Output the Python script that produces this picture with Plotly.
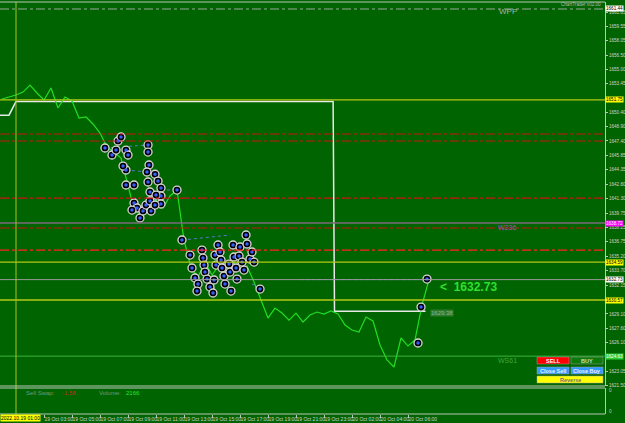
import plotly.graph_objects as go

# ---------------- data ----------------
# x = M30 bar index (0 = 19 Oct 00:00; 20 Oct 00:00-01:00 gap removed)
close_idx = list(range(62))
close_px = [1651.84, 1652.05, 1652.27, 1652.58, 1653.32, 1652.48, 1651.74, 1653.01, 1650.89, 1652.05,
            1651.63, 1649.83, 1649.94, 1649.20, 1648.24, 1646.76, 1646.23, 1645.60, 1642.74, 1639.78,
            1640.62, 1640.09, 1641.15, 1640.31, 1641.58, 1642.21, 1636.92, 1633.96, 1633.00, 1634.59,
            1633.22, 1634.27, 1633.53, 1634.59, 1633.74, 1634.17, 1632.47, 1630.57, 1628.66, 1629.72,
            1629.19, 1628.45, 1629.19, 1628.24, 1628.98, 1629.30, 1629.09, 1629.41, 1629.09, 1627.92,
            1627.39, 1627.18, 1628.77, 1628.35, 1625.81, 1624.22, 1623.48, 1626.55, 1625.70, 1626.34,
            1630.04, 1632.73]

stop_idx = [-0.3, 1, 2, 47.3, 47.5, 60.5]
stop_px = [1650.13, 1650.13, 1651.57, 1651.57, 1629.38, 1629.38]

trade_idx = [14.71, 15.71, 16.29, 16.57, 17.0, 17.71, 18.0, 17.71, 17.71, 18.86, 18.86, 19.29, 19.71,
             20.14, 20.57, 20.86, 20.86, 21.0, 20.71, 20.86, 21.14, 21.14, 21.29, 21.86, 22.29, 22.71,
             22.71, 22.71, 22.0, 21.86, 25.0, 18.57, 17.29,
             25.71, 26.86, 27.14, 27.57, 28.0, 27.86, 28.57, 28.71, 28.86, 29.0, 29.29, 29.71, 30.14,
             30.57, 30.43, 30.86, 31.14, 31.29, 31.43, 31.71, 31.86, 32.43, 32.57, 32.71, 33.0, 33.14,
             33.43, 33.86, 34.0, 34.29, 34.57, 34.86, 35.0, 35.43, 35.71, 36.0, 36.86, 33.57, 30.29,
             60.71, 59.86, 59.43]
trade_px = [1646.66, 1645.92, 1646.44, 1647.40, 1647.82, 1646.44, 1645.92, 1644.33, 1642.74, 1642.74,
            1640.84, 1640.31, 1639.25, 1639.99, 1640.62, 1646.98, 1646.23, 1644.86, 1644.12, 1643.06,
            1642.00, 1641.05, 1639.99, 1643.88, 1643.16, 1642.42, 1641.58, 1640.73, 1641.68, 1640.62,
            1642.21, 1640.09, 1644.75,
            1636.92, 1635.33, 1633.96, 1632.90, 1632.26, 1631.52, 1635.86, 1635.01, 1634.27, 1633.53,
            1632.79, 1631.94, 1631.31, 1634.27, 1635.33, 1636.39, 1635.65, 1634.80, 1633.96, 1633.11,
            1632.26, 1634.37, 1633.53, 1631.52, 1636.39, 1635.12, 1633.96, 1635.22, 1636.18, 1634.59,
            1633.74, 1637.45, 1636.50, 1634.91, 1635.65, 1634.59, 1631.73, 1632.79, 1632.69,
            1632.79, 1629.82, 1626.02]

# dotted trade links: (idx0, idx1), (price0, price1)
link_idx = [(14.71, 20.86), (17.71, 20.71), (23.57, 25.0), (25.71, 32.57), (35.71, 36.86), (42.6, 60.7)]
link_px = [(1646.66, 1646.98), (1644.33, 1644.12), (1642.21, 1642.21), (1636.92, 1637.45),
           (1632.26, 1631.94), (1632.73, 1632.73)]

yellow_levels = [1651.75, 1634.59, 1630.57]
red_levels = [1648.14, 1647.40, 1641.36, 1638.19, 1635.86]
wpp_level = 1661.37
w236_level = 1638.72
ws61_level = 1624.63
bid_level = 1632.73
cursor_idx = 2

price_ticks = [1661.05, 1659.55, 1658.05, 1656.50, 1655.00, 1653.45, 1651.95, 1650.40, 1648.90,
               1647.40, 1645.85, 1644.35, 1642.80, 1641.30, 1639.75, 1638.25, 1636.75, 1635.20,
               1633.70, 1632.15, 1630.65, 1629.10, 1627.60, 1626.10, 1624.55, 1623.05, 1621.50]

time_ticks = [6, 10, 14, 18, 22, 26, 30, 34, 38, 42, 46, 50, 54, 58]
time_labels = ["19 Oct 03:00", "19 Oct 05:00", "19 Oct 07:00", "19 Oct 09:00", "19 Oct 11:00",
               "19 Oct 13:00", "19 Oct 15:00", "19 Oct 17:00", "19 Oct 19:00", "19 Oct 21:00",
               "19 Oct 23:00", "20 Oct 02:00", "20 Oct 04:00", "20 Oct 06:00"]

axis_boxes = [("1661.44", 1661.37, "#FFFFFF", "#000000"),
              ("1651.75", 1651.75, "#FFFF00", "#000000"),
              ("1638.72", 1638.72, "#FF00FF", "#FFFFFF"),
              ("1634.59", 1634.59, "#FFFF00", "#000000"),
              ("1632.73", 1632.73, "#FFFFFF", "#000000"),
              ("1630.57", 1630.57, "#FFFF00", "#000000"),
              ("1624.63", 1624.63, "#32CD32", "#FFFFFF")]

# ---------------- layout helpers (pixel -> paper) ----------------
W_PLOT, TOP, BOT = 605.0, 2.0, 414.0
def px(x):
    return x / W_PLOT
def py(y):
    return (BOT - y) / (BOT - TOP)

BG = "#006400"
GRID_COL = "#B8C8B8"
FONT = "Liberation Sans, Arial, sans-serif"
AX_FONT = 4.6

# tick labels hidden behind the highlighted price boxes (as on the terminal)
box_levels = [b[1] for b in axis_boxes]
tick_text = ["" if any(abs(v - b) < 0.25 for b in box_levels) else "%.2f" % v for v in price_ticks]

fig = go.Figure()

fig.add_trace(go.Scatter(x=stop_idx, y=stop_px, mode="lines",
                         line=dict(color="#E8E8E8", width=1.5), hoverinfo="skip"))
fig.add_trace(go.Scatter(x=close_idx, y=close_px, mode="lines",
                         line=dict(color="#22DD22", width=1.2), hoverinfo="skip"))
for (a, b), (p, q) in zip(link_idx, link_px):
    fig.add_trace(go.Scatter(x=[a, b], y=[p, q], mode="lines",
                             line=dict(color="#5A78C8", width=1, dash="dot"), hoverinfo="skip"))
fig.add_trace(go.Scatter(x=trade_idx, y=trade_px, mode="markers",
                         marker=dict(size=8, color="#000000", line=dict(color="#D8D8D8", width=1.3)),
                         hoverinfo="skip"))
fig.add_trace(go.Scatter(x=trade_idx, y=trade_px, mode="markers",
                         marker=dict(size=3.5, color="#3A5CFF", symbol="circle"),
                         hoverinfo="skip"))
fig.add_trace(go.Scatter(x=[0], y=[0.5], xaxis="x2", yaxis="y2", mode="markers",
                         marker=dict(opacity=0), hoverinfo="skip"))

shapes = []
for lv in yellow_levels:
    shapes.append(dict(type="line", xref="paper", yref="y", x0=0, x1=1, y0=lv, y1=lv,
                       line=dict(color="#B4C814", width=1.3)))
for i, lv in enumerate(red_levels):
    shapes.append(dict(type="line", xref="paper", yref="y", x0=0, x1=1, y0=lv, y1=lv,
                       line=dict(color="#FF2020" if i == len(red_levels) - 1 else "#C81414",
                                 width=1.2, dash="dashdot")))
shapes.append(dict(type="line", xref="paper", yref="y", x0=0, x1=1, y0=wpp_level, y1=wpp_level,
                   line=dict(color="#9AA89A", width=1, dash="dashdot")))
shapes.append(dict(type="line", xref="paper", yref="y", x0=0, x1=1, y0=w236_level, y1=w236_level,
                   line=dict(color="#7A6A7A", width=1.5)))
shapes.append(dict(type="line", xref="paper", yref="y", x0=0, x1=1, y0=ws61_level, y1=ws61_level,
                   line=dict(color="#3CB43C", width=1)))
shapes.append(dict(type="line", xref="paper", yref="y", x0=0, x1=1, y0=bid_level, y1=bid_level,
                   line=dict(color="#9A9A9A", width=1)))
shapes.append(dict(type="line", xref="x", yref="paper", x0=cursor_idx, x1=cursor_idx, y0=0, y1=1,
                   line=dict(color="#A8C020", width=1)))
for yy in (TOP, 386, 388, BOT):
    shapes.append(dict(type="line", xref="paper", yref="paper", x0=0, x1=1, y0=py(yy), y1=py(yy),
                       line=dict(color=GRID_COL, width=1)))

buttons = [("SELL", 537, 569, 357, 364, "#FF0000", "#FFFFFF"),
           ("BUY", 571, 603, 357, 364, "#0B7A0B", "#C8E0C8"),
           ("Close Sell", 537, 569, 367, 374, "#3399FF", "#E8F0FF"),
           ("Close Buy", 571, 603, 367, 374, "#3399FF", "#E8F0FF"),
           ("Reverse", 537, 603, 376, 383, "#FFFF00", "#707070")]
annotations = []
for txt_, x0, x1, y0, y1, bg, fg in buttons:
    shapes.append(dict(type="rect", xref="paper", yref="paper", x0=px(x0), x1=px(x1),
                       y0=py(y1), y1=py(y0), fillcolor=bg, line=dict(color="#A0A0A0", width=0.5)))
    annotations.append(dict(xref="paper", yref="paper", x=px((x0 + x1) / 2), y=py((y0 + y1) / 2),
                            xanchor="center", yanchor="middle",
                            text="<b>" + txt_ + "</b>", showarrow=False,
                            font=dict(size=5.5, color=fg, family=FONT)))

def txt(x, y, s, color, size, anchor="left", bold=False):
    annotations.append(dict(xref="paper", yref="paper", x=px(x), y=py(y), xanchor=anchor,
                            yanchor="middle", text=("<b>%s</b>" % s) if bold else s, showarrow=False,
                            font=dict(size=size, color=color, family=FONT)))

txt(497, 12, "WPP", "#A8B4A8", 8)
txt(496, 227, "W236", "#B050B0", 7)
txt(496, 360, "WS61", "#3CA83C", 7)
txt(438, 287, "<  1632.73", "#2EE02E", 12, bold=True)
txt(603, 5, "ChartTrader v02.00", "#B8B8B8", 4.6, anchor="right")
txt(24, 393, "Sell Swap:", "#6E9A86", 6)
txt(60, 393, "-1.58", "#D02020", 6)
txt(97, 393, "Volume:", "#6E9A86", 6)
txt(124, 393, "2166", "#30E030", 6)

annotations.append(dict(xref="paper", yref="paper", x=px(430), y=py(313), xanchor="left",
                        yanchor="middle", text="1629.38", showarrow=False, bgcolor="#2E7A2E",
                        font=dict(size=6, color="#8CB48C", family=FONT), borderpad=0))

for label, lv, bg, fg in axis_boxes:
    annotations.append(dict(xref="paper", yref="y", x=1.0, y=lv, xanchor="left", yanchor="middle",
                            text=label, showarrow=False, bgcolor=bg, borderpad=0,
                            font=dict(size=AX_FONT, color=fg, family=FONT)))
annotations.append(dict(xref="paper", yref="paper", x=0, y=py(418), xanchor="left", yanchor="middle",
                        text="2022.10.19 01:00", showarrow=False, bgcolor="#FFFF00", borderpad=0,
                        font=dict(size=5, color="#000000", family=FONT)))
annotations.append(dict(xref="paper", yref="y2", x=1.003, y=0.9, xanchor="left", yanchor="middle",
                        text="0", showarrow=False, font=dict(size=AX_FONT, color="#C8C8C8", family=FONT)))
annotations.append(dict(xref="paper", yref="y2", x=1.003, y=0.1, xanchor="left", yanchor="middle",
                        text="0", showarrow=False, font=dict(size=AX_FONT, color="#C8C8C8", family=FONT)))

main_bottom = py(386)
sub_top = py(388)

fig.update_layout(
    width=625, height=423,
    margin=dict(l=0, r=20, t=2, b=9, autoexpand=False),
    paper_bgcolor=BG, plot_bgcolor=BG,
    showlegend=False,
    xaxis=dict(domain=[0, 1], range=[-2 / 7, 603 / 7], anchor="y", showticklabels=False,
               showgrid=False, zeroline=False, showline=False, ticks="", automargin=False),
    yaxis=dict(domain=[main_bottom, 1], range=[1621.47, 1662.11], side="right", anchor="x",
               tickvals=price_ticks, ticktext=tick_text,
               ticks="outside", ticklen=2, tickcolor=GRID_COL,
               tickfont=dict(size=AX_FONT, color="#D0D0D0", family=FONT),
               showline=True, linecolor=GRID_COL, linewidth=1,
               showgrid=False, zeroline=False, automargin=False),
    xaxis2=dict(domain=[0, 1], matches="x", anchor="y2", tickvals=time_ticks, ticktext=time_labels,
                ticks="outside", ticklen=3, tickcolor=GRID_COL, ticklabelposition="outside right",
                tickangle=0, automargin=False,
                tickfont=dict(size=5, color="#D0D0D0", family=FONT),
                showgrid=False, zeroline=False, showline=False),
    yaxis2=dict(domain=[0, sub_top], range=[0, 1], side="right", anchor="x2",
                showticklabels=False, ticks="", showline=True, linecolor=GRID_COL,
                showgrid=False, zeroline=False, automargin=False),
    shapes=shapes,
    annotations=annotations,
)

fig.write_html("out.html")
